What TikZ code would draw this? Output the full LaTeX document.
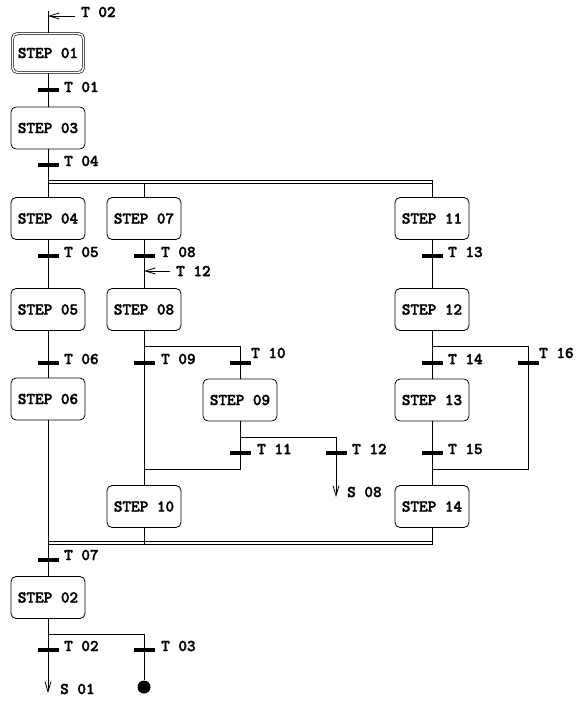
\documentclass[tikz,border=0pt]{standalone}
\usepackage{fontspec}
\newfontfamily\cour{lmmonolt10-bold.otf}[FakeBold=2.2]
\usetikzlibrary{arrows.meta}
\tikzset{
  txt/.style={font=\cour\fontsize{16.4}{16.4}\selectfont},
  stepbox/.style={draw, line width=0.8pt, rounded corners=5pt, minimum width=74pt, minimum height=42pt, inner sep=0pt, txt},
  initbox/.style={stepbox, double, double distance=1.6pt, line width=0.6pt, minimum width=71pt, minimum height=39pt},
  bar/.style={fill=black, draw=none, minimum width=21pt, minimum height=3.6pt, inner sep=0pt, outer sep=0pt},
  lbl/.style={anchor=west, inner sep=0pt, txt},
  ln/.style={line width=0.8pt},
  arr/.style={ln, -{Straight Barb[length=10pt,width=6pt,line width=0.8pt]}},
  dot/.style={circle, fill=black, minimum size=13pt, inner sep=0pt}
}
\begin{document}
\begin{tikzpicture}[x=1pt,y=-1pt]
\useasboundingbox (0,0) rectangle (581,704);
% steps
\node[initbox] (s01) at (48,53) {STEP 01};
\node[stepbox] (s03) at (48,128) {STEP 03};
\node[stepbox] (s04) at (48,218.5) {STEP 04};
\node[stepbox] (s07) at (144,218.5) {STEP 07};
\node[stepbox] (s11) at (432,218.5) {STEP 11};
\node[stepbox] (s05) at (48,309.5) {STEP 05};
\node[stepbox] (s08) at (144,309.5) {STEP 08};
\node[stepbox] (s12) at (432,309.5) {STEP 12};
\node[stepbox] (s06) at (48,399) {STEP 06};
\node[stepbox] (s09) at (240,400) {STEP 09};
\node[stepbox] (s13) at (432,400) {STEP 13};
\node[stepbox] (s10) at (144,506.5) {STEP 10};
\node[stepbox] (s14) at (432,506.5) {STEP 14};
\node[stepbox] (s02) at (48,597.5) {STEP 02};
% coordinates
\coordinate (top) at (48,11);
\coordinate (a02s) at (75,16);
\coordinate (a02e) at (48,16);
\coordinate (d1a) at (48,180);
\coordinate (d1b) at (432,180);
\coordinate (d2a) at (48,183);
\coordinate (d2b) at (432,183);
\coordinate (d2c) at (144,183);
\coordinate (a12s) at (170,271);
\coordinate (a12e) at (144,271);
\coordinate (b8) at (144,346);
\coordinate (b8r) at (240,346);
\coordinate (b9) at (240,437);
\coordinate (b9r) at (336,437);
\coordinate (j11) at (240,469);
\coordinate (j11l) at (144,469);
\coordinate (s08end) at (336,497);
\coordinate (b12) at (432,346);
\coordinate (b12r) at (528,346);
\coordinate (j15) at (432,469);
\coordinate (j15r) at (528,469);
\coordinate (e1a) at (48,541.5);
\coordinate (e1b) at (432,541.5);
\coordinate (e2a) at (48,544.5);
\coordinate (e2b) at (432,544.5);
\coordinate (e2c) at (144,544.5);
\coordinate (b2) at (48,634);
\coordinate (b2r) at (144,634);
\coordinate (s01end) at (48,693);
% connectors
\draw[ln] (top) -- (s01);
\draw[arr] (a02s) -- (a02e);
\draw[ln] (s01) -- (s03);
\draw[ln] (s03) -- (s04);
\draw[ln] (d1a) -- (d1b) -- (s11);
\draw[ln] (d2a) -- (d2b);
\draw[ln] (d2c) -- (s07);
\draw[ln] (s04) -- (s05);
\draw[ln] (s05) -- (s06);
\draw[ln] (s06) -- (s02);
\draw[ln] (s07) -- (s08);
\draw[arr] (a12s) -- (a12e);
\draw[ln] (s08) -- (s10);
\draw[ln] (b8) -- (b8r) -- (s09);
\draw[ln] (s09) -- (j11) -- (j11l);
\draw[ln] (b9) -- (b9r);
\draw[arr] (b9r) -- (s08end);
\draw[ln] (s11) -- (s12);
\draw[ln] (s12) -- (s13);
\draw[ln] (s13) -- (s14);
\draw[ln] (b12) -- (b12r) -- (j15r) -- (j15);
\draw[ln] (e1a) -- (e1b);
\draw[ln] (e2a) -- (e2b);
\draw[ln] (s10) -- (e2c);
\draw[ln] (s14) -- (e2b);
\draw[ln] (s02) -- (b2) -- (b2r);
\draw[arr] (b2) -- (s01end);
\node[dot] (fin) at (144,687) {};
\draw[ln] (b2r) -- (fin);
% transitions
\node[bar] (t01) at (48,90) {};
\node[bar] (t04) at (48,165) {};
\node[bar] (t05) at (48,256) {};
\node[bar] (t08) at (144,256) {};
\node[bar] (t13) at (432,256) {};
\node[bar] (t06) at (48,363) {};
\node[bar] (t09) at (144,363) {};
\node[bar] (t10) at (240,363) {};
\node[bar] (t14) at (432,363) {};
\node[bar] (t16) at (528,363) {};
\node[bar] (t11) at (240,453) {};
\node[bar] (t12) at (336,453) {};
\node[bar] (t15) at (432,453) {};
\node[bar] (t07) at (48,560) {};
\node[bar] (t02) at (48,650) {};
\node[bar] (t03) at (144,650) {};
% labels
\node[lbl] (l02top) at (81,12) {T 02};
\node[lbl] (l01) at (64,87) {T 01};
\node[lbl] (l04) at (64,161) {T 04};
\node[lbl] (l05) at (64,252) {T 05};
\node[lbl] (l08) at (161,252) {T 08};
\node[lbl] (l12a) at (176,271) {T 12};
\node[lbl] (l13) at (448,252) {T 13};
\node[lbl] (l06) at (64,359) {T 06};
\node[lbl] (l09) at (161,359) {T 09};
\node[lbl] (l10) at (251,353) {T 10};
\node[lbl] (l14) at (448,359) {T 14};
\node[lbl] (l16) at (539,353) {T 16};
\node[lbl] (l11) at (257,449) {T 11};
\node[lbl] (l12) at (352,449) {T 12};
\node[lbl] (l15) at (448,449) {T 15};
\node[lbl] (ls08) at (347,492) {S 08};
\node[lbl] (l07) at (64,555) {T 07};
\node[lbl] (l02) at (64,646) {T 02};
\node[lbl] (l03) at (161,646) {T 03};
\node[lbl] (ls01) at (60,689) {S 01};
\end{tikzpicture}
\end{document}
